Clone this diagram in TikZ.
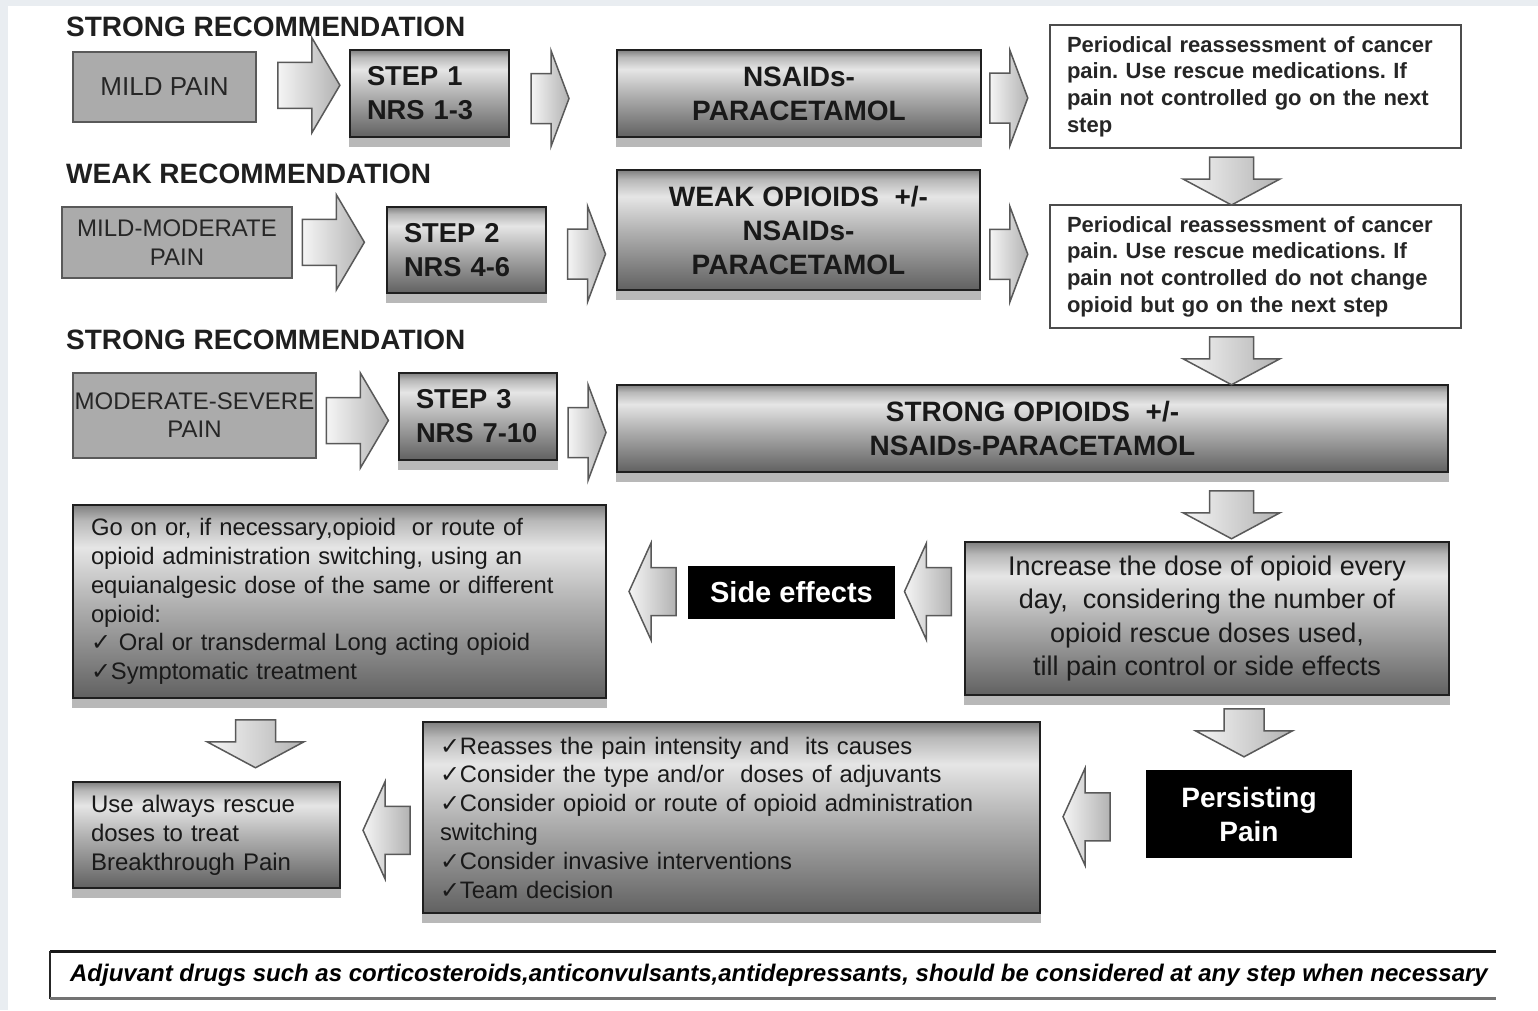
\documentclass[tikz,border=0pt]{standalone}
\usepackage{fontspec}
\setmainfont{Liberation Sans}
\newfontfamily\symfont{DejaVu Sans}
\usetikzlibrary{calc}
\frenchspacing

\newcommand{\setfs}[2]{\fontsize{#1}{#2}\selectfont}
\newcommand{\cmark}{{\symfont\char"2713}}
\definecolor{bgstrip}{HTML}{E9EDF1}

\pgfdeclareverticalshading{metal}{100bp}{color(0bp)=(black!62); color(25bp)=(black!62); color(50bp)=(black!30); color(64bp)=(black!10); color(71bp)=(black!28); color(75bp)=(black!50); color(100bp)=(black!50)}

\begin{document}
\begin{tikzpicture}[
    x=1pt, y=-1pt,
    header/.style = {anchor=base west, inner sep=0pt, font=\bfseries\setfs{28}{30}, text=black!88},
    painbox/.style = {draw=black!65, line width=2pt, fill=black!33, align=center, inner sep=0pt, text=black!85},
    metalbox/.style = {draw=black!88, line width=2.5pt, shading=metal, text=black!90},
    stepbox/.style = {metalbox, align=left, text width=125pt, inner xsep=17pt, minimum height=87pt, font=\bfseries\setfs{27.3}{34}},
    drugbox/.style = {metalbox, align=center, font=\bfseries\setfs{28}{34}},
    listbox/.style = {metalbox, align=left, inner xsep=18pt, font=\setfs{23.8}{28.8}},
    notebox/.style = {draw=black!70, line width=1.5pt, fill=white, align=left, inner xsep=17pt, text width=377pt, minimum height=123pt, font=\bfseries\setfs{22}{26.7}, text=black!85},
    darkbox/.style = {fill=black, text=white, align=center, font=\bfseries\setfs{29}{34}},
    arrowfill/.style = {draw=black!65, line width=1.5pt, left color=black!4, right color=black!30},
    pics/blockarrow/.style n args = {4}{code={
        \draw[arrowfill] (-#1/2,-#2/2) -- (#1/2-#4,-#2/2) -- (#1/2-#4,-#3/2) -- (#1/2,0)
            -- (#1/2-#4,#3/2) -- (#1/2-#4,#2/2) -- (-#1/2,#2/2) -- cycle;
    }},
]
    \useasboundingbox (0,0) rectangle (1538,1010);
    \fill[bgstrip] (0,0) rectangle (1538,1010);
    \fill[white] (8,6) rectangle (1538,1010);

    % step 1
    \node[header] (hdr1) at (66,36) {STRONG RECOMMENDATION};
    \node[painbox, minimum width=183pt, minimum height=70pt, font=\setfs{26}{30}] (mild) at (164.5,87) {MILD PAIN};
    \node[stepbox] (step1) at (429.5,93.5) {STEP 1\\NRS 1-3};
    \node[drugbox, minimum width=364pt, minimum height=87pt] (nsaid1) at (799,93.5) {NSAIDs-\\PARACETAMOL};
    \node[notebox] (note1) at (1255.5,86.5) {Periodical reassessment of cancer\\pain. Use rescue medications. If\\pain not controlled go on the next\\step};

    % step 2
    \node[header] (hdr2) at (66,183) {WEAK RECOMMENDATION};
    \node[painbox, minimum width=230pt, minimum height=71pt, font=\setfs{24}{29}] (mm) at (177,242.5) {MILD-MODERATE\\PAIN};
    \node[stepbox, minimum height=86pt] (step2) at (466.5,250) {STEP 2\\NRS 4-6};
    \node[drugbox, minimum width=363pt, minimum height=120pt] (weak) at (798.5,230) {WEAK OPIOIDS\ \ +/-\\NSAIDs-\\PARACETAMOL};
    \node[notebox] (note2) at (1255.5,266.5) {Periodical reassessment of cancer\\pain. Use rescue medications. If\\pain not controlled do not change\\opioid but go on the next step};

    % step 3
    \node[header] (hdr3) at (66,349) {STRONG RECOMMENDATION};
    \node[painbox, minimum width=243pt, minimum height=85pt, font=\setfs{24}{28}] (ms) at (194.5,415.5) {MODERATE-SEVERE\\PAIN};
    \node[stepbox, text width=124pt] (step3) at (478,416.5) {STEP 3\\NRS 7-10};
    \node[drugbox, minimum width=831pt, minimum height=87pt] (strong) at (1032.5,428.5) {STRONG OPIOIDS\ \ +/-\\NSAIDs-PARACETAMOL};

    % titration
    \node[metalbox, align=center, minimum width=484pt, minimum height=153pt, font=\setfs{27}{33.3}] (incr) at (1207,618.5) {Increase the dose of opioid every\\day,\ \ considering the number of\\opioid rescue doses used,\\till pain control or side effects};
    \node[darkbox, minimum width=207pt, minimum height=53pt] (side) at (791.5,592.5) {Side effects};
    \node[listbox, text width=497pt, minimum height=193pt] (goon) at (339.5,601.5) {Go on or, if necessary,opioid\ \ or route of\\opioid administration switching, using an\\equianalgesic dose of the same or different\\opioid:\\\cmark\ Oral or transdermal Long acting opioid\\\cmark Symptomatic treatment};

    % persisting pain
    \node[darkbox, minimum width=206pt, minimum height=88pt, font=\bfseries\setfs{28}{34}] (persist) at (1249,814) {Persisting\\Pain};
    \node[listbox, inner xsep=17pt, text width=583pt, minimum height=191pt] (reas) at (731.5,817.5) {\cmark Reasses the pain intensity and\ \ its causes\\\cmark Consider the type and/or\ \ doses of adjuvants\\\cmark Consider opioid or route of opioid administration\\switching\\\cmark Consider invasive interventions\\\cmark Team decision};
    \node[listbox, text width=231pt, minimum height=106pt, font=\setfs{24}{29}] (use) at (206.5,835) {Use always rescue\\doses to treat\\Breakthrough Pain};

    \node[font=\bfseries\itshape\setfs{24}{26}, minimum width=1446pt, minimum height=47pt, inner sep=0pt] (adj) at (773,975) {\hspace*{12pt}Adjuvant drugs such as corticosteroids,anticonvulsants,antidepressants, should be considered at any step when necessary};

    % shadows under the shaded boxes
    \foreach \b in {step1,nsaid1,step2,weak,step3,strong,goon,incr,use,reas}
        \fill[black!28] (\b.south west) rectangle ([yshift=-9pt]\b.south east);

    % block arrows
    \pic at ($(mild.east)!.5!(step1.west)+(6,-5)$) {blockarrow={62}{46}{95}{28}};
    \pic at ($(step1.east)!.5!(nsaid1.west)+(-13,5)$) {blockarrow={38}{50}{96}{18}};
    \pic at ($(nsaid1.east)!.5!(note1.west)+(-7,8)$) {blockarrow={38}{50}{96}{18}};
    \pic at ($(mm.east)!.5!(step2.west)+(-6,-4)$) {blockarrow={62}{46}{95}{28}};
    \pic at ($(step2.east)!.5!(weak.west)+(5,14)$) {blockarrow={38}{50}{96}{18}};
    \pic at ($(weak.east)!.5!(note2.west)+(-6.5,6)$) {blockarrow={38}{50}{96}{18}};
    \pic at ($(ms.east)!.5!(step3.west)+(0,4.5)$) {blockarrow={62}{46}{95}{28}};
    \pic at ($(step3.east)!.5!(strong.west)+(0,10)$) {blockarrow={38}{50}{96}{18}};

    \pic[rotate=-90] at ($(note1.south)!.5!(note2.north)+(-24,4.5)$) {blockarrow={48}{44}{97}{26}};
    \pic[rotate=-90] at ($(note2.south)+(-24,32)$) {blockarrow={48}{44}{97}{26}};
    \pic[rotate=-90] at ($(incr.north)+(24.5,-26)$) {blockarrow={48}{44}{97}{26}};
    \pic[rotate=-90] at ($(use.north)+(49,-37)$) {blockarrow={48}{40}{97}{26}};
    \pic[rotate=-90] at ($(persist.north)+(-5,-37)$) {blockarrow={48}{40}{97}{26}};

    \pic[rotate=180] at ($(incr.west)!.5!(side.east)+(-1.5,-14)$) {blockarrow={47}{48}{97}{22}};
    \pic[rotate=180] at ($(side.west)!.5!(goon.east)+(5,-5.5)$) {blockarrow={47}{48}{97}{22}};
    \pic[rotate=180] at ($(reas.west)!.5!(use.east)+(5,4)$) {blockarrow={47}{48}{97}{22}};
    \pic[rotate=180] at ($(persist.west)!.5!(reas.east)+(-7,1)$) {blockarrow={47}{48}{97}{22}};

    % frame of the footnote
    \draw[line width=3pt, black!90] (adj.north east) -- (adj.north west);
    \draw[line width=2pt, black!85] (adj.north west) -- (adj.south west);
    \draw[line width=2.5pt, black!55] (adj.south west) -- (adj.south east);
\end{tikzpicture}
\end{document}
